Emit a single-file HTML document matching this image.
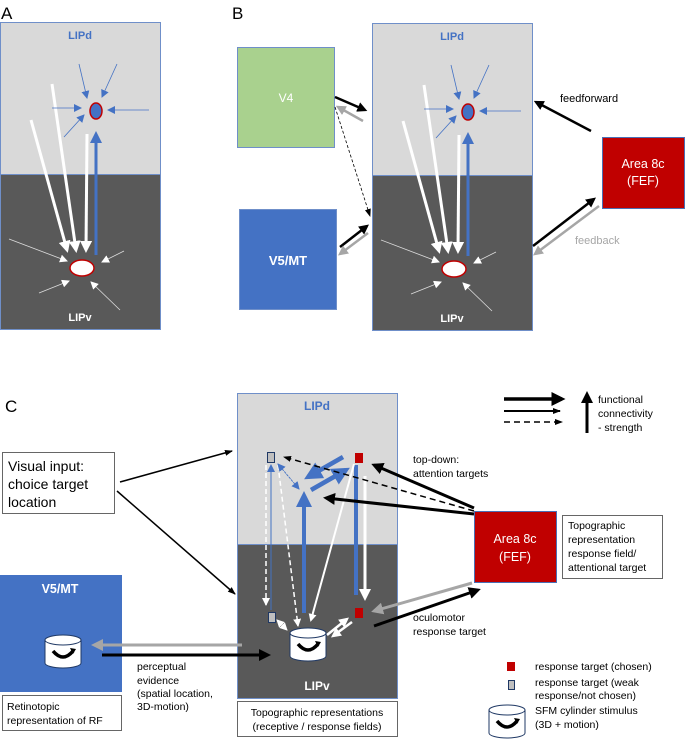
<!DOCTYPE html>
<html><head><meta charset="utf-8"><style>
html,body{margin:0;padding:0;background:#fff;}
svg{display:block;font-family:"Liberation Sans",Arial,sans-serif;}
</style></head><body>
<svg width="685" height="740" viewBox="0 0 685 740" xmlns="http://www.w3.org/2000/svg">
<defs>
<marker id="hw" markerWidth="4" markerHeight="4" refX="3" refY="2" orient="auto" markerUnits="strokeWidth"><path d="M0,0L4,2L0,4z" fill="#fff"/></marker>
<marker id="hb" markerWidth="4" markerHeight="4" refX="3" refY="2" orient="auto" markerUnits="strokeWidth"><path d="M0,0L4,2L0,4z" fill="#000"/></marker>
<marker id="hg" markerWidth="4" markerHeight="4" refX="3" refY="2" orient="auto" markerUnits="strokeWidth"><path d="M0,0L4,2L0,4z" fill="#a6a6a6"/></marker>
<marker id="hbl" markerWidth="4" markerHeight="4" refX="3" refY="2" orient="auto" markerUnits="strokeWidth"><path d="M0,0L4,2L0,4z" fill="#4472c4"/></marker>
<marker id="tb" markerWidth="8" markerHeight="8" refX="7" refY="4" orient="auto" markerUnits="userSpaceOnUse"><path d="M0,0L8,4L0,8z" fill="#4472c4"/></marker>
<marker id="tw" markerWidth="8" markerHeight="8" refX="7" refY="4" orient="auto" markerUnits="userSpaceOnUse"><path d="M0,0L8,4L0,8z" fill="#fff"/></marker>
<marker id="tk" markerWidth="8" markerHeight="8" refX="7" refY="4" orient="auto" markerUnits="userSpaceOnUse"><path d="M0,1L8,4L0,7z" fill="#000"/></marker>
<g id="cyl">
<path d="M0,5 L0,28 A18,5 0 0 0 36,28 L36,5" fill="#fff" stroke="#1f3864" stroke-width="1"/>
<ellipse cx="18" cy="5" rx="18" ry="5" fill="#fff" stroke="#1f3864" stroke-width="1"/>
<path d="M8,16 Q18,28 28,16" fill="none" stroke="#000" stroke-width="3.5"/>
<path d="M25,13 L31,14 L28,19z" fill="#000"/>
</g>
</defs>

<!-- Panel A -->
<text x="1" y="19" font-size="17">A</text>
<rect x="0.5" y="22.5" width="160" height="152" fill="#d9d9d9" stroke="#6f8fc9"/>
<rect x="0.5" y="174.5" width="160" height="155" fill="#595959" stroke="#6f8fc9"/>
<text x="80" y="39" font-size="11" font-weight="bold" fill="#4472c4" text-anchor="middle">LIPd</text>
<text x="80" y="321" font-size="11" font-weight="bold" fill="#fff" text-anchor="middle">LIPv</text>
<g stroke="#fff" stroke-width="3" marker-end="url(#hw)">
<line x1="52" y1="84" x2="76" y2="250"/><line x1="31" y1="120" x2="67" y2="250"/><line x1="87" y1="134" x2="86" y2="250"/>
</g>
<line x1="96" y1="255" x2="96" y2="134" stroke="#4472c4" stroke-width="3" marker-end="url(#hbl)"/>
<g stroke="#4472c4" stroke-width="0.8" marker-end="url(#tb)">
<line x1="79" y1="64" x2="87" y2="98"/><line x1="117" y1="64" x2="102" y2="97"/><line x1="52" y1="108" x2="81" y2="108"/><line x1="149" y1="110" x2="108" y2="110"/><line x1="64" y1="137" x2="84" y2="115"/>
</g>
<g stroke="#ddd" stroke-width="0.8" marker-end="url(#tw)">
<line x1="9" y1="239" x2="67" y2="261"/><line x1="124" y1="251" x2="102" y2="262"/><line x1="39" y1="293" x2="69" y2="281"/><line x1="120" y1="310" x2="91" y2="282"/>
</g>
<ellipse cx="96" cy="111" rx="6" ry="8" fill="#4472c4" stroke="#c00000" stroke-width="1.5"/>
<ellipse cx="82" cy="268" rx="12" ry="8" fill="#fff" stroke="#c00000" stroke-width="1.5"/>

<!-- Panel B -->
<text x="232" y="19" font-size="17">B</text>
<rect x="237.5" y="47.5" width="97" height="100" fill="#a9d18e" stroke="#6f8fc9"/>
<text x="286" y="102" font-size="12" fill="#fff" text-anchor="middle">V4</text>
<rect x="239.5" y="209.5" width="97" height="100" fill="#4472c4" stroke="#6f8fc9"/>
<text x="288" y="265" font-size="13" font-weight="bold" fill="#fff" text-anchor="middle">V5/MT</text>
<rect x="372.5" y="23.5" width="160" height="152" fill="#d9d9d9" stroke="#6f8fc9"/>
<rect x="372.5" y="175.5" width="160" height="155" fill="#595959" stroke="#6f8fc9"/>
<text x="452" y="40" font-size="11" font-weight="bold" fill="#4472c4" text-anchor="middle">LIPd</text>
<text x="452" y="322" font-size="11" font-weight="bold" fill="#fff" text-anchor="middle">LIPv</text>
<g transform="translate(372,1)">
<g stroke="#fff" stroke-width="3" marker-end="url(#hw)">
<line x1="52" y1="84" x2="76" y2="250"/><line x1="31" y1="120" x2="67" y2="250"/><line x1="87" y1="134" x2="86" y2="250"/>
</g>
<line x1="96" y1="255" x2="96" y2="134" stroke="#4472c4" stroke-width="3" marker-end="url(#hbl)"/>
<g stroke="#4472c4" stroke-width="0.8" marker-end="url(#tb)">
<line x1="79" y1="64" x2="87" y2="98"/><line x1="117" y1="64" x2="102" y2="97"/><line x1="52" y1="108" x2="81" y2="108"/><line x1="149" y1="110" x2="108" y2="110"/><line x1="64" y1="137" x2="84" y2="115"/>
</g>
<g stroke="#ddd" stroke-width="0.8" marker-end="url(#tw)">
<line x1="9" y1="239" x2="67" y2="261"/><line x1="124" y1="251" x2="102" y2="262"/><line x1="39" y1="293" x2="69" y2="281"/><line x1="120" y1="310" x2="91" y2="282"/>
</g>
<ellipse cx="96" cy="111" rx="6" ry="8" fill="#4472c4" stroke="#c00000" stroke-width="1.5"/>
<ellipse cx="82" cy="268" rx="12" ry="8" fill="#fff" stroke="#c00000" stroke-width="1.5"/>
</g>
<line x1="335" y1="97" x2="365" y2="110" stroke="#000" stroke-width="2.5" marker-end="url(#hb)"/>
<line x1="363" y1="121" x2="338" y2="107" stroke="#a6a6a6" stroke-width="2.5" marker-end="url(#hg)"/>
<line x1="335" y1="107" x2="370" y2="216" stroke="#000" stroke-width="0.8" stroke-dasharray="3,2" marker-end="url(#tk)"/>
<line x1="340" y1="247" x2="367" y2="226" stroke="#000" stroke-width="2.5" marker-end="url(#hb)"/>
<line x1="368" y1="233" x2="340" y2="254" stroke="#a6a6a6" stroke-width="2.5" marker-end="url(#hg)"/>
<line x1="591" y1="131" x2="536" y2="102" stroke="#000" stroke-width="2.5" marker-end="url(#hb)"/>
<line x1="533" y1="246" x2="594" y2="199" stroke="#000" stroke-width="2.5" marker-end="url(#hb)"/>
<line x1="599" y1="206" x2="535" y2="254" stroke="#a6a6a6" stroke-width="2.5" marker-end="url(#hg)"/>
<text x="560" y="102" font-size="11">feedforward</text>
<text x="575" y="244" font-size="11" fill="#a6a6a6">feedback</text>
<rect x="602.5" y="137.5" width="82" height="71" fill="#c00000" stroke="#4a6fb5"/>
<text x="643" y="168" font-size="12.5" fill="#fff" text-anchor="middle">Area 8c</text>
<text x="643" y="185" font-size="12.5" fill="#fff" text-anchor="middle">(FEF)</text>

<!-- Panel C -->
<text x="5" y="412" font-size="17">C</text>
<rect x="237.5" y="393.5" width="160" height="151" fill="#d9d9d9" stroke="#6f8fc9"/>
<rect x="237.5" y="544.5" width="160" height="154" fill="#595959" stroke="#6f8fc9"/>
<text x="317" y="410" font-size="12" font-weight="bold" fill="#4472c4" text-anchor="middle">LIPd</text>
<text x="317" y="690" font-size="12" font-weight="bold" fill="#fff" text-anchor="middle">LIPv</text>
<rect x="237.5" y="701.5" width="160" height="35" fill="#fff" stroke="#666"/>
<text x="317" y="716" font-size="10.5" text-anchor="middle">Topographic representations</text>
<text x="317" y="730" font-size="10.5" text-anchor="middle">(receptive / response fields)</text>

<rect x="2.5" y="452.5" width="112" height="61" fill="#fff" stroke="#666"/>
<text x="8" y="471" font-size="14">Visual input:</text>
<text x="8" y="489" font-size="14">choice target</text>
<text x="8" y="507" font-size="14">location</text>
<line x1="120" y1="482" x2="232" y2="451" stroke="#000" stroke-width="1.5" marker-end="url(#tk)"/>
<line x1="117" y1="491" x2="235" y2="594" stroke="#000" stroke-width="1.5" marker-end="url(#tk)"/>

<rect x="0" y="575" width="122" height="117" fill="#4472c4"/>
<text x="60" y="593" font-size="12.5" font-weight="bold" fill="#fff" text-anchor="middle">V5/MT</text>
<use href="#cyl" x="45" y="635"/>
<rect x="2.5" y="695.5" width="119" height="35" fill="#fff" stroke="#666"/>
<text x="7" y="710" font-size="10.5">Retinotopic</text>
<text x="7" y="724" font-size="10.5">representation of RF</text>
<line x1="242" y1="645" x2="94" y2="645" stroke="#a6a6a6" stroke-width="3" marker-end="url(#hg)"/>
<line x1="102" y1="655" x2="268" y2="655" stroke="#000" stroke-width="3" marker-end="url(#hb)"/>
<text x="137" y="670" font-size="10.5">perceptual</text>
<text x="137" y="684" font-size="10.5">evidence</text>
<text x="137" y="697" font-size="10.5">(spatial location,</text>
<text x="137" y="710" font-size="10.5">3D-motion)</text>

<!-- internals C -->
<line x1="266" y1="465" x2="266" y2="605" stroke="#fff" stroke-width="1.5" stroke-dasharray="5,3" marker-end="url(#tw)"/>
<line x1="278" y1="465" x2="298" y2="626" stroke="#fff" stroke-width="1.5" stroke-dasharray="5,3" marker-end="url(#tw)"/>
<line x1="271" y1="610" x2="271" y2="465" stroke="#4472c4" stroke-width="1" marker-end="url(#tb)"/>
<line x1="278" y1="464" x2="299" y2="489" stroke="#4472c4" stroke-width="0.8" stroke-dasharray="2,1.5" marker-end="url(#tb)"/>
<line x1="299" y1="489" x2="278" y2="464" stroke="#4472c4" stroke-width="0.8" stroke-dasharray="2,1.5" marker-end="url(#tb)"/>
<line x1="304" y1="613" x2="304" y2="495" stroke="#4472c4" stroke-width="4" marker-end="url(#hbl)"/>
<line x1="356" y1="595" x2="356" y2="465" stroke="#4472c4" stroke-width="4"/>
<line x1="365" y1="476" x2="365" y2="598" stroke="#fff" stroke-width="3" marker-end="url(#hw)"/>
<line x1="354" y1="464" x2="311" y2="620" stroke="#fff" stroke-width="2" marker-end="url(#hw)"/>
<line x1="343" y1="457" x2="308" y2="477" stroke="#4472c4" stroke-width="4.5" marker-end="url(#hbl)"/>
<line x1="311" y1="490" x2="346" y2="470" stroke="#4472c4" stroke-width="4.5" marker-end="url(#hbl)"/>
<line x1="474" y1="511" x2="284" y2="457" stroke="#000" stroke-width="1.5" stroke-dasharray="6,4" marker-end="url(#tk)"/>
<line x1="474" y1="508" x2="374" y2="465" stroke="#000" stroke-width="3" marker-end="url(#hb)"/>
<line x1="474" y1="514" x2="326" y2="498" stroke="#000" stroke-width="3" marker-end="url(#hb)"/>
<line x1="327" y1="635" x2="347" y2="619" stroke="#fff" stroke-width="2.5" marker-end="url(#hw)"/>
<line x1="352" y1="622" x2="333" y2="636" stroke="#fff" stroke-width="2.5" marker-end="url(#hw)"/>
<line x1="277" y1="620" x2="287" y2="630" stroke="#fff" stroke-width="0.8" marker-end="url(#tw)"/>
<line x1="287" y1="630" x2="277" y2="620" stroke="#fff" stroke-width="0.8" marker-end="url(#tw)"/>
<line x1="472" y1="583" x2="374" y2="611" stroke="#a6a6a6" stroke-width="3" marker-end="url(#hg)"/>
<line x1="374" y1="626" x2="478" y2="590" stroke="#000" stroke-width="3" marker-end="url(#hb)"/>
<rect x="267.5" y="452.5" width="7" height="10" fill="#bfbfbf" stroke="#1f3864"/>
<rect x="355" y="453" width="8" height="10" fill="#c00000"/>
<rect x="268.5" y="612.5" width="7" height="10" fill="#bfbfbf" stroke="#1f3864"/>
<rect x="355" y="608" width="8" height="10" fill="#c00000"/>
<use href="#cyl" x="290" y="628"/>

<text x="413" y="463" font-size="10.5">top-down:</text>
<text x="413" y="477" font-size="10.5">attention targets</text>
<text x="413" y="621" font-size="10.5">oculomotor</text>
<text x="413" y="635" font-size="10.5">response target</text>

<rect x="474.5" y="511.5" width="82" height="71" fill="#c00000" stroke="#4a6fb5"/>
<text x="515" y="543" font-size="12.5" fill="#fff" text-anchor="middle">Area 8c</text>
<text x="515" y="561" font-size="12.5" fill="#fff" text-anchor="middle">(FEF)</text>
<rect x="562.5" y="515.5" width="100" height="63" fill="#fff" stroke="#666"/>
<text x="568" y="529" font-size="10.5">Topographic</text>
<text x="568" y="543" font-size="10.5">representation</text>
<text x="568" y="557" font-size="10.5">response field/</text>
<text x="568" y="571" font-size="10.5">attentional target</text>

<!-- legend -->
<line x1="504" y1="399" x2="562" y2="399" stroke="#000" stroke-width="3.5" marker-end="url(#hb)"/>
<line x1="504" y1="411" x2="560" y2="411" stroke="#000" stroke-width="2" marker-end="url(#tk)"/>
<line x1="504" y1="422" x2="562" y2="422" stroke="#000" stroke-width="1.5" stroke-dasharray="6,4" marker-end="url(#tk)"/>
<line x1="587" y1="433" x2="587" y2="394" stroke="#000" stroke-width="3" marker-end="url(#hb)"/>
<text x="598" y="403" font-size="10.5">functional</text>
<text x="598" y="417" font-size="10.5">connectivity</text>
<text x="598" y="431" font-size="10.5">- strength</text>
<rect x="507" y="662" width="8" height="9" fill="#c00000"/>
<text x="535" y="670" font-size="10.5">response target (chosen)</text>
<rect x="508.5" y="680.5" width="6" height="9" fill="#bfbfbf" stroke="#1f3864"/>
<text x="535" y="686" font-size="10.5">response target (weak</text>
<text x="535" y="699" font-size="10.5">response/not chosen)</text>
<use href="#cyl" x="489" y="705"/>
<text x="535" y="714" font-size="10.5">SFM cylinder stimulus</text>
<text x="535" y="728" font-size="10.5">(3D + motion)</text>
</svg>
</body></html>
